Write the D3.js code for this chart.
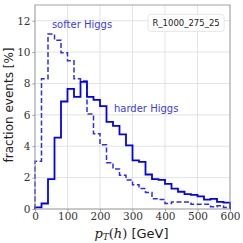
<!DOCTYPE html>
<html>
<head>
<meta charset="utf-8">
<script src="https://cdn.jsdelivr.net/npm/d3@7"></script>
<style>
  body { margin: 0; background: #fff; }
  .tick text { font-family: "DejaVu Serif", serif; }
</style>
</head>
<body>
<div class="chart"></div>
<script>
// bin edges 0..600 step 20 GeV
var binEdges = d3.range(0, 620, 20);

var harder = [0.1, 0.35, 1.9, 4.55, 6.85, 7.65, 7.15, 8.1, 7.15, 6.95, 6.55,
  5.55, 5.3, 4.75, 4.05, 3.1, 3.0, 2.2, 1.9, 1.85, 1.6, 1.3, 1.1, 0.95,
  0.9, 0.8, 0.6, 0.65, 0.45, 0.4];

var softer = [3.05, 8.3, 11.15, 10.75, 9.95, 9.45, 8.3, 8.15, 6.05, 4.8,
  4.1, 2.95, 2.55, 2.15, 1.85, 1.55, 1.3, 1.05, 0.65, 0.6, 0.35, 0.45,
  0.45, 0.45, 0.3, 0.3, 0.3, 0.15, 0.2, 0.1];

var xTicks = [0, 100, 200, 300, 400, 500, 600];
var yTicks = [0, 2, 4, 6, 8, 10, 12];

var margin = {top: 5, right: 13, bottom: 34, left: 35},
  width = 243 - margin.left - margin.right,
  height = 243 - margin.top - margin.bottom;

var svg = d3.select(".chart").append("svg")
    .attr("width", 243)
    .attr("height", 243)
  .append("g")
    .attr("transform", "translate(" + margin.left + "," + margin.top + ")");

var x = d3.scaleLinear().domain([0, 600]).range([0, width]);
var y = d3.scaleLinear().domain([0, 13]).range([height, 0]);

// grid
svg.append("g").selectAll("line").data(xTicks).enter().append("line")
    .attr("x1", function(d) { return x(d); }).attr("x2", function(d) { return x(d); })
    .attr("y1", 0).attr("y2", height)
    .attr("stroke", "#dcdcdc").attr("stroke-width", 0.8);
svg.append("g").selectAll("line").data(yTicks).enter().append("line")
    .attr("y1", function(d) { return y(d); }).attr("y2", function(d) { return y(d); })
    .attr("x1", 0).attr("x2", width)
    .attr("stroke", "#dcdcdc").attr("stroke-width", 0.8);

// step histograms
function stepPoints(vals) {
  var pts = [[0, 0]];
  vals.forEach(function(v, i) {
    pts.push([binEdges[i], v]);
    pts.push([binEdges[i + 1], v]);
  });
  pts.push([600, 0]);
  return pts;
}

var line = d3.line()
    .x(function(d) { return x(d[0]); })
    .y(function(d) { return y(d[1]); });

svg.append("path")
    .datum(stepPoints(softer))
    .attr("d", line)
    .attr("fill", "none")
    .attr("stroke", "#2b2bff")
    .attr("stroke-width", 1.5)
    .attr("stroke-dasharray", "5,2.5");

svg.append("path")
    .datum(stepPoints(harder))
    .attr("d", line)
    .attr("fill", "none")
    .attr("stroke", "#0000ff")
    .attr("stroke-width", 1.8);

// frame
svg.append("rect")
    .attr("width", width).attr("height", height)
    .attr("fill", "none").attr("stroke", "#999").attr("stroke-width", 0.9);

// axes
var xAxis = svg.append("g")
    .attr("transform", "translate(0," + height + ")")
    .call(d3.axisBottom(x).tickValues(xTicks).tickSize(2.5).tickPadding(1));
var yAxis = svg.append("g")
    .call(d3.axisLeft(y).tickValues(yTicks).tickSize(2.5).tickPadding(2));
[xAxis, yAxis].forEach(function(a) {
  a.select(".domain").remove();
  a.selectAll(".tick line").attr("stroke", "#999");
  a.selectAll(".tick text").attr("fill", "#333").style("font-size", "10.5px");
});

// labels
svg.append("text")
    .attr("transform", "translate(" + (-22) + "," + (height / 2 - 2) + ") rotate(-90)")
    .attr("text-anchor", "middle")
    .style("font-family", "DejaVu Sans, sans-serif")
    .style("font-size", "12px")
    .attr("fill", "#222")
    .text("fraction events [%]");

var xl = svg.append("text")
    .attr("x", width / 2 - 1)
    .attr("y", height + 29)
    .attr("text-anchor", "middle")
    .attr("fill", "#222")
    .style("font-size", "13px");
xl.append("tspan").style("font-family", "DejaVu Serif, serif").style("font-style", "italic").text("p");
xl.append("tspan").style("font-family", "DejaVu Serif, serif").style("font-style", "italic")
    .style("font-size", "9px").attr("dy", 2).text("T");
xl.append("tspan").style("font-family", "DejaVu Serif, serif").attr("dy", -2).text("(");
xl.append("tspan").style("font-family", "DejaVu Serif, serif").style("font-style", "italic").text("h");
xl.append("tspan").style("font-family", "DejaVu Serif, serif").text(")");
xl.append("tspan").style("font-family", "DejaVu Sans, sans-serif").text(" [GeV]");

svg.append("text")
    .attr("x", x(52)).attr("y", y(11.55))
    .attr("fill", "#3b3bf0")
    .style("font-family", "DejaVu Sans, sans-serif")
    .style("font-size", "10px")
    .text("softer Higgs");

svg.append("text")
    .attr("x", x(243)).attr("y", y(6.15))
    .attr("fill", "#3b3bf0")
    .style("font-family", "DejaVu Sans, sans-serif")
    .style("font-size", "10px")
    .text("harder Higgs");

// legend box
svg.append("rect")
    .attr("x", x(348)).attr("y", y(12.4))
    .attr("width", 76).attr("height", 17).attr("rx", 2.5)
    .attr("fill", "#fff").attr("fill-opacity", 0.85)
    .attr("stroke", "#e0e0e0").attr("stroke-width", 0.8);
svg.append("text")
    .attr("x", x(348) + 38).attr("y", y(12.4) + 12)
    .attr("text-anchor", "middle")
    .attr("fill", "#222")
    .style("font-family", "DejaVu Sans, sans-serif")
    .style("font-size", "8.5px")
    .text("R_1000_275_25");
</script>
</body>
</html>
